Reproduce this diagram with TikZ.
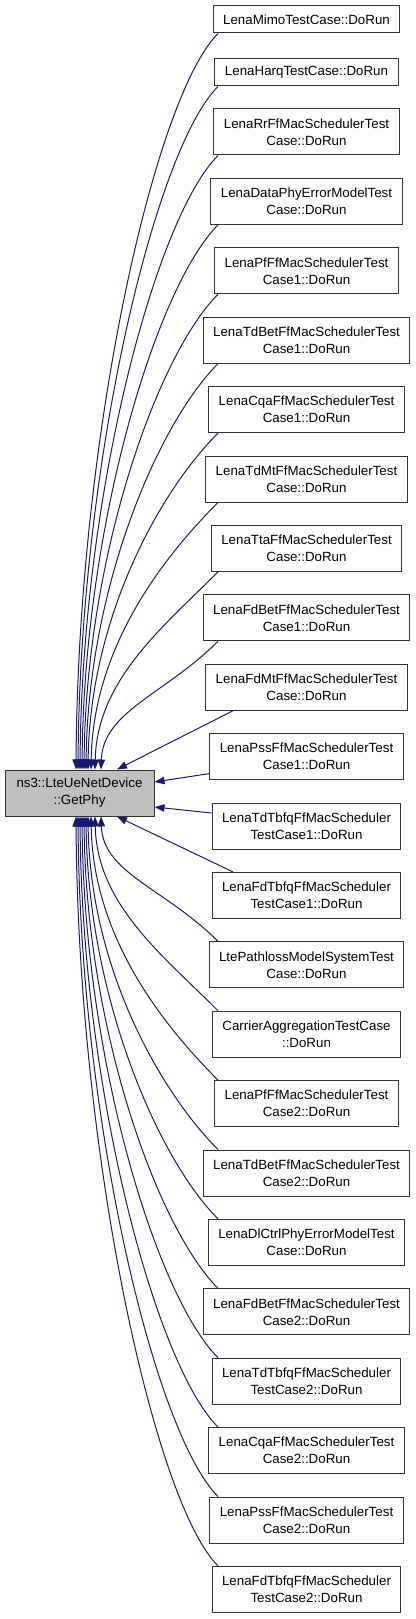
\documentclass[tikz,border=0pt]{standalone}
\usepackage{fontspec}
\setmainfont{Liberation Sans}
\usetikzlibrary{arrows.meta,calc}
\definecolor{edgeblue}{HTML}{191970}
\definecolor{mainfill}{HTML}{BFBFBF}
\begin{document}
\begin{tikzpicture}[x=0.75pt,y=-0.75pt,
  box/.style={draw=black!80, line width=0.75pt, fill=white, font=\fontsize{10}{12.8}\selectfont, align=center, inner xsep=7.5pt, inner ysep=2pt},
  one/.style={box, minimum height=20.25pt},
  two/.style={box, minimum height=34.5pt},
  conn/.style={draw=edgeblue, line width=0.75pt, -{Triangle[length=7.5pt,width=5.5pt]}}
]
\useasboundingbox (0,0) rectangle (416,1619);
\node[two, fill=mainfill, minimum width=111.75pt] (main) at (79.5,793) {ns3::LteUeNetDevice\\::GetPhy};
\node[one] (b1) at (306.5,19.5) {LenaMimoTestCase::DoRun};
\node[one] (b2) at (306.5,72.5) {LenaHarqTestCase::DoRun};
\node[two] (b3) at (306.5,132) {LenaRrFfMacSchedulerTest\\Case::DoRun};
\node[two] (b4) at (306.5,201.4) {LenaDataPhyErrorModelTest\\Case::DoRun};
\node[two] (b5) at (306.5,270.8) {LenaPfFfMacSchedulerTest\\Case1::DoRun};
\node[two] (b6) at (306.5,340.2) {LenaTdBetFfMacSchedulerTest\\Case1::DoRun};
\node[two] (b7) at (306.5,409.6) {LenaCqaFfMacSchedulerTest\\Case1::DoRun};
\node[two] (b8) at (306.5,479) {LenaTdMtFfMacSchedulerTest\\Case::DoRun};
\node[two] (b9) at (306.5,548.4) {LenaTtaFfMacSchedulerTest\\Case::DoRun};
\node[two] (b10) at (306.5,617.8) {LenaFdBetFfMacSchedulerTest\\Case1::DoRun};
\node[two] (b11) at (306.5,687.2) {LenaFdMtFfMacSchedulerTest\\Case::DoRun};
\node[two] (b12) at (306.5,756.6) {LenaPssFfMacSchedulerTest\\Case1::DoRun};
\node[two] (b13) at (306.5,826) {LenaTdTbfqFfMacScheduler\\TestCase1::DoRun};
\node[two] (b14) at (306.5,895.4) {LenaFdTbfqFfMacScheduler\\TestCase1::DoRun};
\node[two] (b15) at (306.5,964.8) {LtePathlossModelSystemTest\\Case::DoRun};
\node[two] (b16) at (306.5,1034.2) {CarrierAggregationTestCase\\::DoRun};
\node[two] (b17) at (306.5,1103.6) {LenaPfFfMacSchedulerTest\\Case2::DoRun};
\node[two] (b18) at (306.5,1173) {LenaTdBetFfMacSchedulerTest\\Case2::DoRun};
\node[two] (b19) at (306.5,1242.4) {LenaDlCtrlPhyErrorModelTest\\Case::DoRun};
\node[two] (b20) at (306.5,1311.8) {LenaFdBetFfMacSchedulerTest\\Case2::DoRun};
\node[two] (b21) at (306.5,1381.2) {LenaTdTbfqFfMacScheduler\\TestCase2::DoRun};
\node[two] (b22) at (306.5,1450.6) {LenaCqaFfMacSchedulerTest\\Case2::DoRun};
\node[two] (b23) at (306.5,1520) {LenaPssFfMacSchedulerTest\\Case2::DoRun};
\node[two] (b24) at (306.5,1589.4) {LenaFdTbfqFfMacScheduler\\TestCase2::DoRun};
\foreach \k/\xe/\h in {1/76/737,2/78/684,3/80/615,4/82/545.6,5/84/476.2,6/86/406.8,7/88/337.4,8/91/268,9/95/198.6,10/101/129.2}{
  \pgfmathsetmacro\w{218-\xe}
  \draw[conn] ($(b\k.south)+(-88.5,0)$) .. controls +({-0.45*\w},{0.45*\w}) and +(2,{-0.45*\h}) .. ($(main.north)+({\xe-79.5},0)$);
}
\foreach \k/\xe/\h in {15/101/125.8,16/95/195.2,17/91/264.6,18/88/334,19/86/403.4,20/84/472.8,21/82/542.2,22/80/611.6,23/78/681,24/76/750.4}{
  \pgfmathsetmacro\w{218-\xe}
  \draw[conn] ($(b\k.north)+(-88.5,0)$) .. controls +({-0.45*\w},{-0.45*\w}) and +(2,{0.45*\h}) .. ($(main.south)+({\xe-79.5},0)$);
}
\draw[conn] ($(b11.south)+(-73.5,0)$) -- ($(main.north)+(37.5,0)$);
\draw[conn] ($(b14.north)+(-73.5,0)$) -- ($(main.south)+(37.5,0)$);
\draw[conn] ($(b12.west)+(0,17)$) -- ($(main.east)+(0,-11)$);
\draw[conn] ($(b13.west)+(0,-13)$) -- ($(main.east)+(0,14)$);
\end{tikzpicture}
\end{document}
